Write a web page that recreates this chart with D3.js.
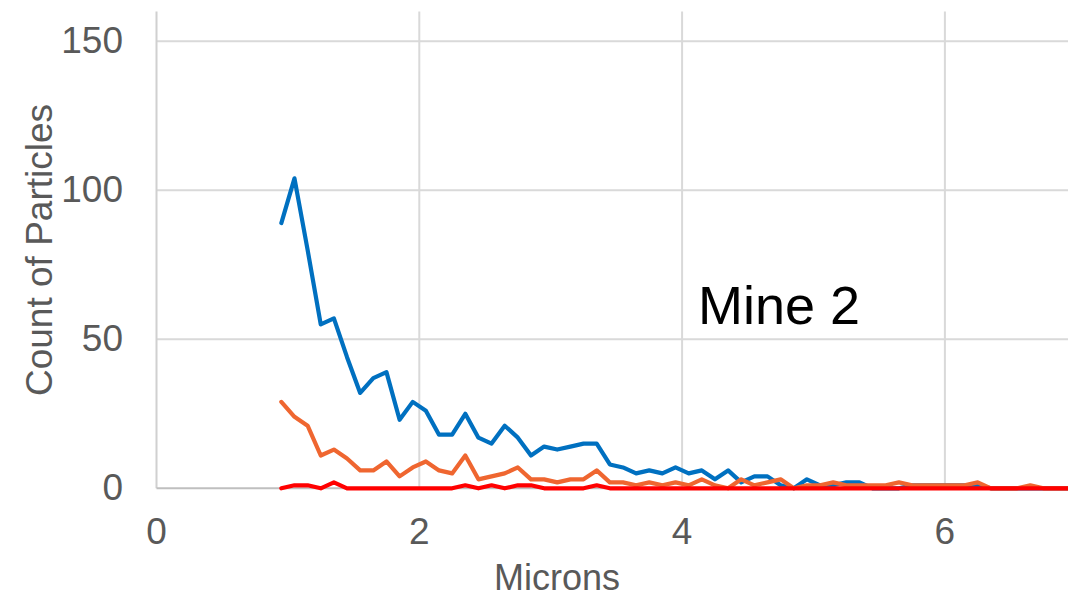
<!DOCTYPE html>
<html>
<head>
<meta charset="utf-8">
<script src="https://cdn.jsdelivr.net/npm/d3@7"></script>
<style>
  html, body { margin: 0; padding: 0; background: #fff; overflow: hidden; }
  svg { display: block; font-family: "Liberation Sans", Arial, sans-serif; }
</style>
</head>
<body>
<svg id="chart" width="1068" height="597"></svg>
<script>
// ---- data ----
const xStart = 0.95, xStep = 0.1;   // bin centres in microns
const series1 = [89,104,80,55,57,44,32,37,39,23,29,26,18,18,25,17,15,21,17,11,14,13,14,15,15,8,7,5,6,5,7,5,6,3,6,2,4,4,1,0,3,1,1,2,2,0,0,0,1,1,1,1,1,1,0,0,0,0,0,0,0];
const series2 = [29,24,21,11,13,10,6,6,9,4,7,9,6,5,11,3,4,5,7,3,3,2,3,3,6,2,2,1,2,1,2,1,3,1,0,3,1,2,3,0,1,1,2,1,1,1,1,2,1,1,1,1,1,2,0,0,0,1,0,0,0];
const series3 = [0,1,1,0,2,0,0,0,0,0,0,0,0,0,1,0,1,0,1,1,0,0,0,0,1,0,0,0,0,0,0,0,0,0,0,0,0,0,0,0,0,0,0,0,0,0,0,0,0,0,0,0,0,0,0,0,0,0,0,0,0];
const seriesColors = ["#0070c0", "#ef6630", "#ff0000"];
const xTicks = [0, 2, 4, 6];
const yTicks = [0, 50, 100, 150];
const xTitle = "Microns";
const yTitle = "Count of Particles";
const annotation = "Mine 2";

// ---- layout ----
const svg = d3.select("#chart");
const x0 = 156.5, unit = 131.4;
const x = d3.scaleLinear().domain([0, 7]).range([x0, x0 + 7 * unit]);
const y = d3.scaleLinear().domain([0, 160]).range([488.3, 11.5]);

const grid = svg.append("g");
// horizontal gridlines
grid.selectAll("line.h").data(yTicks.filter(d => d > 0)).join("line")
  .attr("x1", x(0)).attr("x2", 1068)
  .attr("y1", d => y(d)).attr("y2", d => y(d))
  .attr("stroke", "#d9d9d9").attr("stroke-width", 2);
// vertical gridlines
grid.selectAll("line.v").data(xTicks.filter(d => d > 0)).join("line")
  .attr("x1", d => x(d)).attr("x2", d => x(d))
  .attr("y1", y(160)).attr("y2", y(0))
  .attr("stroke", "#d9d9d9").attr("stroke-width", 2);
// axis lines
grid.append("line").attr("x1", x(0)).attr("x2", x(0)).attr("y1", y(160)).attr("y2", y(0))
  .attr("stroke", "#d0d0d0").attr("stroke-width", 2);
grid.append("line").attr("x1", x(0)).attr("x2", 1068).attr("y1", y(0)).attr("y2", y(0))
  .attr("stroke", "#bfbfbf").attr("stroke-width", 2);

// tick labels
svg.append("g").selectAll("text").data(yTicks).join("text")
  .attr("x", 123).attr("y", d => y(d) + 11.5)
  .attr("text-anchor", "end").attr("font-size", 37).attr("fill", "#595959")
  .text(d => d);
svg.append("g").selectAll("text").data(xTicks).join("text")
  .attr("x", d => x(d)).attr("y", 544)
  .attr("text-anchor", "middle").attr("font-size", 37).attr("fill", "#595959")
  .text(d => d);

// axis titles
svg.append("text").attr("x", 557).attr("y", 590)
  .attr("text-anchor", "middle").attr("font-size", 36).attr("fill", "#595959")
  .text(xTitle);
svg.append("text").attr("transform", "translate(52,250) rotate(-90)")
  .attr("text-anchor", "middle").attr("font-size", 37).attr("fill", "#595959")
  .text(yTitle);

// lines
const line = d3.line().x((d, i) => x(xStart + i * xStep)).y(d => y(d));
[series1, series2, series3].forEach((s, k) => {
  svg.append("path").datum(s)
    .attr("d", line)
    .attr("fill", "none")
    .attr("stroke", seriesColors[k])
    .attr("stroke-width", 4.2)
    .attr("stroke-linejoin", "round")
    .attr("stroke-linecap", "round");
});

// annotation
svg.append("text").attr("x", 698).attr("y", 323.5)
  .attr("font-size", 54).attr("fill", "#000")
  .text(annotation);
</script>
</body>
</html>
